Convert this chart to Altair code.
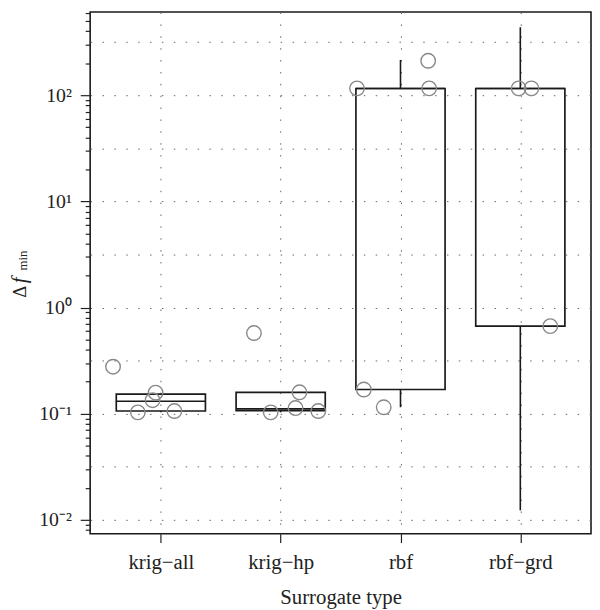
import altair as alt
import pandas as pd

FONT = "Liberation Serif"

# categories and their positions on the x axis
categories = ["krig−all", "krig−hp", "rbf", "rbf−grd"]
cat_pos = [1, 2, 3, 4]

# box-plot statistics
box_low = [0.103, 0.103, 0.115, 0.0123]
box_q1 = [0.106, 0.107, 0.169, 0.668]
box_med = [0.131, 0.111, 115.6, 115.6]
box_q3 = [0.153, 0.159, 115.6, 115.6]
box_high = [0.153, 0.159, 215.0, 437.0]

# jittered observations (x in category units, y = delta f_min)
pt_x = [0.601, 0.808, 0.956, 0.931, 1.113,
        1.777, 2.157, 1.917, 2.124, 2.314,
        2.637, 3.231, 3.239, 2.694, 2.860,
        3.986, 4.093, 4.250]
pt_y = [0.277, 0.103, 0.158, 0.134, 0.106,
        0.575, 0.159, 0.103, 0.113, 0.106,
        116.0, 211.0, 116.0, 0.169, 0.115,
        116.0, 116.0, 0.668]

# y axis ticks
y_major = [0.01, 0.1, 1, 10, 100]
y_major_labels = ["10⁻²", "10⁻¹", "10⁰", "10¹", "10²"]
y_half = [0.0316228, 0.316228, 3.16228, 31.6228, 316.228]
y_minor = [0.008, 0.009,
           0.02, 0.03, 0.04, 0.05, 0.06, 0.07, 0.08, 0.09,
           0.2, 0.3, 0.4, 0.5, 0.6, 0.7, 0.8, 0.9,
           2, 3, 4, 5, 6, 7, 8, 9,
           20, 30, 40, 50, 60, 70, 80, 90,
           200, 300, 400, 500, 600]

title_parts = ["Δ", "f", "min"]
x_title = "Surrogate type"

box_df = pd.DataFrame({"cat": categories, "pos": cat_pos, "low": box_low,
                       "q1": box_q1, "med": box_med, "q3": box_q3, "high": box_high})
pt_df = pd.DataFrame({"x": pt_x, "y": pt_y})

x_scale = alt.Scale(domain=[0.41, 4.59], nice=False, zero=False)
y_scale = alt.Scale(type="log", domain=[0.00741, 607], nice=False)

lg = "log(datum.value)/LN10"
is_major = f"abs({lg} - round({lg})) < 0.001"
is_half = f"abs(abs({lg} - floor({lg})) - 0.5) < 0.001"

y_label_expr = " : ".join(
    f"abs(datum.value - {v}) < {v}*0.001 ? '{l}'" for v, l in zip(y_major, y_major_labels)
) + " : ''"
x_label_expr = " : ".join(
    f"datum.value == {p} ? '{c}'" for p, c in zip(cat_pos, categories)
) + " : ''"

GRID = dict(grid=True, gridColor="#666", gridDash=[1.5, 10.5], gridWidth=1)

x_axis = alt.Axis(values=cat_pos, labelExpr=x_label_expr, title=x_title,
                  domain=False, tickSize=9, tickColor="#222", tickWidth=1.2,
                  labelFont=FONT, labelFontSize=21, labelColor="#222", labelPadding=9,
                  labelFlush=False, labelOverlap=False,
                  titleFont=FONT, titleFontSize=21, titleFontWeight="normal",
                  titleColor="#222", titlePadding=15, **GRID)
y_axis = alt.Axis(values=y_major + y_half + y_minor, labelExpr=y_label_expr, title=None,
                  domain=False,
                  tickSize={"condition": {"test": is_major, "value": 10}, "value": 5},
                  tickOpacity={"condition": {"test": is_half, "value": 0}, "value": 1},
                  gridOpacity={"condition": {"test": f"({is_major}) || ({is_half})", "value": 1},
                               "value": 0},
                  tickColor="#222", tickWidth=1.2,
                  labelFont=FONT, labelFontSize=20, labelColor="#222", labelPadding=9,
                  labelBaseline="middle", labelFlush=False, labelOverlap=False, **GRID)

X = lambda f: alt.X(f, type="quantitative", scale=x_scale, axis=x_axis)
Y = lambda f: alt.Y(f, type="quantitative", scale=y_scale, axis=y_axis)

boxes = alt.Chart(box_df).transform_calculate(
    xl="datum.pos - 0.372", xr="datum.pos + 0.372"
)

box_rect = boxes.mark_rect(fill="white", fillOpacity=0, stroke="#1a1a1a", strokeWidth=1.7).encode(
    x=X("xl"), x2="xr", y=Y("q1"), y2="q3")
median = boxes.mark_rule(color="#1a1a1a", strokeWidth=1.7).encode(
    x=X("xl"), x2="xr", y=Y("med"))
whisk_lo = boxes.mark_rule(color="#1a1a1a", strokeWidth=1.6).encode(
    x=X("pos"), y=Y("low"), y2="q1")
whisk_hi = boxes.mark_rule(color="#1a1a1a", strokeWidth=1.6).encode(
    x=X("pos"), y=Y("q3"), y2="high")

points = alt.Chart(pt_df).mark_point(shape="circle", filled=False, size=215,
                                     color="#888", strokeWidth=1.4, opacity=1).encode(
    x=X("x"), y=Y("y"))


def title_text(txt, x, y, size, style="normal"):
    return alt.Chart(pd.DataFrame({"t": [txt]})).mark_text(
        angle=270, font=FONT, fontSize=size, fontStyle=style, align="center",
        baseline="alphabetic", color="#222").encode(
        x=alt.value(x), y=alt.value(y), text="t:N")


t_delta = title_text(title_parts[0], -65, 282.5, 19)
t_f = title_text(title_parts[1], -65, 271, 21, "italic")
t_min = title_text(title_parts[2], -63.5, 251, 13)

chart = alt.layer(box_rect, median, whisk_lo, whisk_hi, points, t_delta, t_f, t_min).properties(
    width=506, height=527, autosize="none",
    padding={"left": 83, "top": 1, "right": 1, "bottom": 74},
    background="white",
).configure_view(stroke="#1a1a1a", strokeWidth=1.6)

chart.save("out.html", embed_options={"renderer": "svg", "actions": False})
